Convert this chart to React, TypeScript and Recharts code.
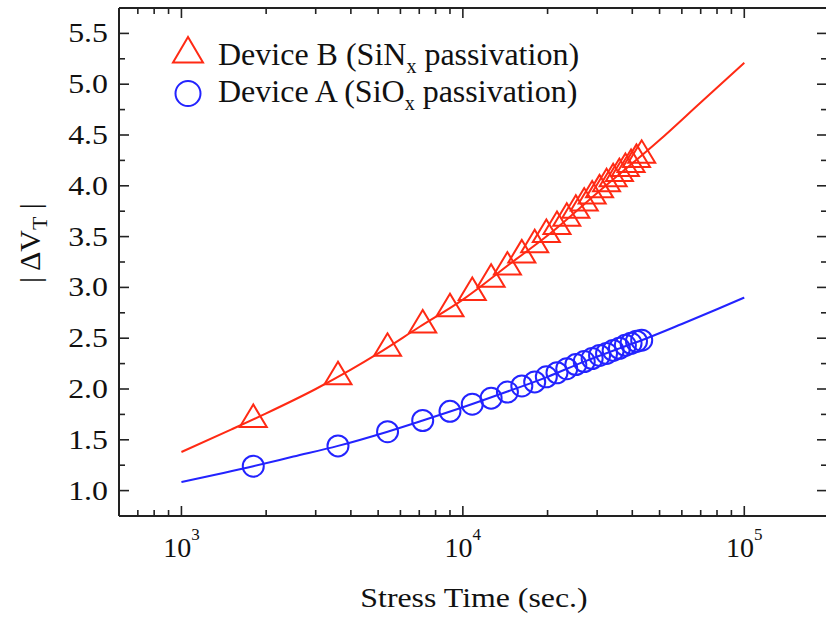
import React from 'react';
import { ComposedChart, Line, Scatter, XAxis, YAxis, Legend } from 'recharts';

// Stress times at which |ΔVT| was measured (s)
const stressTimes = [
  1800, 3600, 5400, 7200, 9000, 10800, 12600, 14400, 16200, 18000, 19800, 21600,
  23400, 25200, 27000, 28800, 30600, 32400, 34200, 36000, 37800, 39600, 41400, 43200,
];

// Device B (SiNx passivation) measured shift
const deviceBValues = [
  1.70, 2.12, 2.40, 2.63, 2.79, 2.95, 3.08, 3.20, 3.32, 3.42, 3.52, 3.60,
  3.68, 3.76, 3.83, 3.90, 3.96, 4.02, 4.07, 4.12, 4.17, 4.21, 4.26, 4.30,
];

// Device A (SiOx passivation) measured shift
const deviceAValues = [
  1.24, 1.44, 1.58, 1.69, 1.78, 1.85, 1.91, 1.97, 2.03, 2.07, 2.12, 2.16,
  2.20, 2.24, 2.27, 2.30, 2.33, 2.35, 2.38, 2.40, 2.43, 2.45, 2.47, 2.48,
];

// Fitted curves
const fitBTimes = [1000, 1500, 2000, 3000, 4000, 5000, 7000, 10000, 15000, 20000, 30000, 50000, 70000, 100000];
const fitBValues = [1.38, 1.60, 1.76, 2.00, 2.19, 2.35, 2.61, 2.88, 3.25, 3.51, 3.93, 4.45, 4.82, 5.21];

const fitATimes = [1000, 1800, 2500, 3600, 5400, 7200, 10000, 14400, 20000, 27000, 36000, 43200, 60000, 80000, 100000];
const fitAValues = [1.085, 1.24, 1.335, 1.44, 1.58, 1.69, 1.82, 1.975, 2.12, 2.27, 2.40, 2.48, 2.64, 2.785, 2.90];

// Axis ticks
const xTicks = [
  600, 700, 800, 900, 1000, 2000, 3000, 4000, 5000, 6000, 7000, 8000, 9000,
  10000, 20000, 30000, 40000, 50000, 60000, 70000, 80000, 90000, 100000, 200000,
];
const xMajor = [1000, 10000, 100000];
const yTicks = [0.75, 1.0, 1.25, 1.5, 1.75, 2.0, 2.25, 2.5, 2.75, 3.0, 3.25, 3.5, 3.75, 4.0, 4.25, 4.5, 4.75, 5.0, 5.25, 5.5, 5.75];

const RED = '#ff2a14';
const BLUE = '#2323ff';
const AXIS = '#222';
const FONT = 'Liberation Serif, Times New Roman, serif';

const legendItems = [
  { name: 'Device B (SiN', sub: 'x', tail: ' passivation)', marker: 'triangle', color: RED },
  { name: 'Device A (SiO', sub: 'x', tail: ' passivation)', marker: 'circle', color: BLUE },
];

const toPoints = (ts: number[], vs: number[]) => ts.map((t, i) => ({ t, v: vs[i] }));

const deviceB = toPoints(stressTimes, deviceBValues);
const deviceA = toPoints(stressTimes, deviceAValues);
const fitB = toPoints(fitBTimes, fitBValues);
const fitA = toPoints(fitATimes, fitAValues);

const isMajorY = (v: number) => Math.abs(v * 2 - Math.round(v * 2)) < 1e-6;

const BottomTick = (props: any) => {
  const { x, y, payload } = props;
  const major = xMajor.includes(payload.value);
  const exp = Math.round(Math.log10(payload.value));
  return (
    <g>
      <line x1={x} x2={x} y1={y} y2={y - (major ? 10 : 6)} stroke={AXIS} strokeWidth={1.6} />
      {major && (
        <text x={x} y={y + 41} textAnchor="middle" style={{ fontFamily: FONT }} fontSize={28} fill="#111">
          10
          <tspan dy={-17} fontSize={17}>{exp}</tspan>
        </text>
      )}
    </g>
  );
};

const TopTick = (props: any) => {
  const { x, y, payload } = props;
  const major = xMajor.includes(payload.value);
  return <line x1={x} x2={x} y1={y} y2={y + (major ? 10 : 6)} stroke={AXIS} strokeWidth={1.6} />;
};

const LeftTick = (props: any) => {
  const { x, y, payload } = props;
  const major = isMajorY(payload.value);
  return (
    <g>
      <line x1={x} x2={x + (major ? 10 : 6)} y1={y} y2={y} stroke={AXIS} strokeWidth={1.6} />
      {major && (
        <text
          transform={`translate(${x - 11}, ${y + 9}) scale(1.18, 1)`}
          textAnchor="end"
          style={{ fontFamily: FONT }}
          fontSize={27}
          fill="#111"
        >
          {payload.value.toFixed(1)}
        </text>
      )}
    </g>
  );
};

const RightTick = (props: any) => {
  const { x, y, payload } = props;
  const major = isMajorY(payload.value);
  return <line x1={x} x2={x - (major ? 12 : 8)} y1={y} y2={y} stroke={AXIS} strokeWidth={1.6} />;
};

const TriangleMarker = (props: any) => {
  const { cx, cy } = props;
  if (cx == null || cy == null) return null;
  const hw = 13.5;
  const pts = `${cx},${cy - 15} ${cx - hw},${cy + 7.5} ${cx + hw},${cy + 7.5}`;
  return <polygon points={pts} fill="none" stroke={RED} strokeWidth={2} />;
};

const CircleMarker = (props: any) => {
  const { cx, cy } = props;
  if (cx == null || cy == null) return null;
  return <circle cx={cx} cy={cy} r={10.5} fill="none" stroke={BLUE} strokeWidth={2} />;
};

const XTitle = (props: any) => {
  const { viewBox } = props;
  const cx = viewBox.x + viewBox.width / 2;
  return (
    <text
      transform={`translate(${cx}, ${viewBox.y + 91}) scale(1.18, 1)`}
      textAnchor="middle"
      style={{ fontFamily: FONT }}
      fontSize={27}
      fill="#111"
    >
      Stress Time (sec.)
    </text>
  );
};

const YTitle = () => {
  const cx = 40;
  const cy = 243;
  return (
    <text
      x={cx}
      y={cy}
      transform={`rotate(-90, ${cx}, ${cy})`}
      textAnchor="middle"
      style={{ fontFamily: FONT }}
      fontSize={30}
      fill="#111"
    >
      {'| ΔV'}
      <tspan dy={7} fontSize={22}>T</tspan>
      <tspan dy={-7}>{' |'}</tspan>
    </text>
  );
};

const LegendBox = () => (
  <svg width={460} height={92} style={{ display: 'block' }}>
    {legendItems.map((item, i) => {
      const my = i === 0 ? 26 : 65.5;
      const ty = i === 0 ? 37 : 74;
      return (
        <g key={item.name}>
          {item.marker === 'triangle' ? (
            <polygon
              points={`28,${my - 17} ${28 - 15},${my + 8.5} ${28 + 15},${my + 8.5}`}
              fill="none"
              stroke={item.color}
              strokeWidth={2}
            />
          ) : (
            <circle cx={28} cy={my} r={12.5} fill="none" stroke={item.color} strokeWidth={2} />
          )}
          <text x={58} y={ty} style={{ fontFamily: FONT }} fontSize={32} fill="#111">
            {item.name}
            <tspan dy={8} fontSize={20}>{item.sub}</tspan>
            <tspan dy={-8}>{item.tail}</tspan>
          </text>
        </g>
      );
    })}
  </svg>
);

export default function App() {
  return (
    <div style={{ position: 'absolute', left: 0, top: 0, width: 826, height: 619, overflow: 'hidden', background: '#fff' }}>
      <ComposedChart width={832} height={619} margin={{ top: 0, right: 0, bottom: 0, left: 0 }}>
        <XAxis
          xAxisId="b"
          dataKey="t"
          type="number"
          scale="log"
          domain={[600, 200000]}
          allowDataOverflow
          ticks={xTicks}
          interval={0}
          tick={<BottomTick />}
          tickLine={false}
          tickSize={0}
          tickMargin={0}
          height={103}
          axisLine={{ stroke: AXIS, strokeWidth: 2 }}
          label={{ content: <XTitle /> }}
        />
        <XAxis
          xAxisId="top"
          orientation="top"
          dataKey="t"
          type="number"
          scale="log"
          domain={[600, 200000]}
          allowDataOverflow
          ticks={xTicks}
          interval={0}
          tick={<TopTick />}
          tickLine={false}
          tickSize={0}
          tickMargin={0}
          height={8}
          axisLine={{ stroke: AXIS, strokeWidth: 2 }}
        />
        <YAxis
          yAxisId="l"
          dataKey="v"
          type="number"
          domain={[0.75, 5.75]}
          allowDataOverflow
          ticks={yTicks}
          interval={0}
          tick={<LeftTick />}
          tickLine={false}
          tickSize={0}
          tickMargin={0}
          width={119}
          axisLine={{ stroke: AXIS, strokeWidth: 2 }}
          label={{ content: <YTitle /> }}
        />
        <YAxis
          yAxisId="r"
          orientation="right"
          type="number"
          domain={[0.75, 5.75]}
          allowDataOverflow
          ticks={yTicks}
          interval={0}
          tick={<RightTick />}
          tickLine={false}
          tickSize={0}
          tickMargin={0}
          width={3}
          axisLine={{ stroke: AXIS, strokeWidth: 2 }}
        />
        <Line
          xAxisId="b"
          yAxisId="l"
          data={fitB}
          dataKey="v"
          type="monotone"
          stroke={RED}
          strokeWidth={2}
          dot={false}
          activeDot={false}
          legendType="none"
          isAnimationActive={false}
        />
        <Line
          xAxisId="b"
          yAxisId="l"
          data={fitA}
          dataKey="v"
          type="monotone"
          stroke={BLUE}
          strokeWidth={2}
          dot={false}
          activeDot={false}
          legendType="none"
          isAnimationActive={false}
        />
        <Scatter
          xAxisId="b"
          yAxisId="l"
          name="Device B"
          data={deviceB}
          dataKey="v"
          shape={<TriangleMarker />}
          isAnimationActive={false}
        />
        <Scatter
          xAxisId="b"
          yAxisId="l"
          name="Device A"
          data={deviceA}
          dataKey="v"
          shape={<CircleMarker />}
          isAnimationActive={false}
        />
        <Legend
          layout="vertical"
          align="center"
          verticalAlign="middle"
          content={<LegendBox />}
          wrapperStyle={{ left: 160, top: 28, width: 460, height: 92 }}
        />
      </ComposedChart>
    </div>
  );
}
